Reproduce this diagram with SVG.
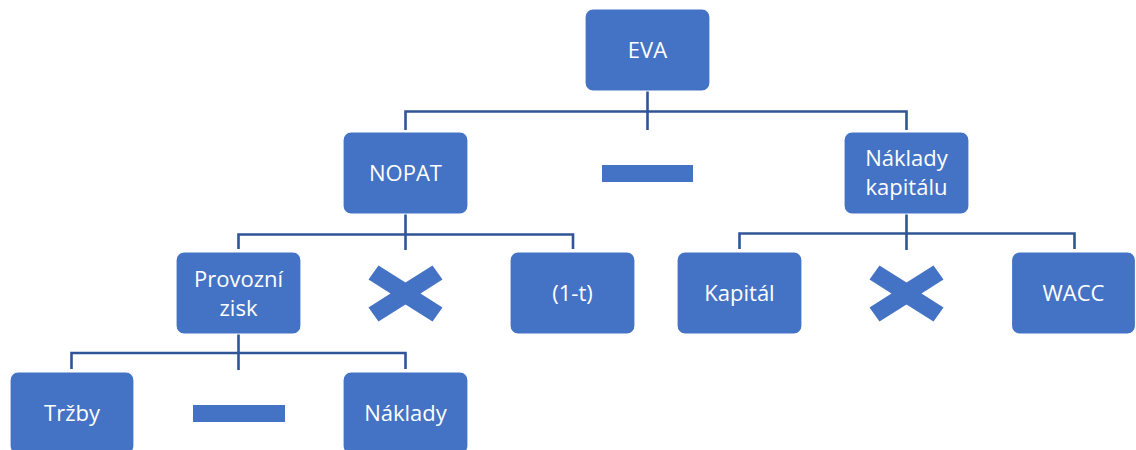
<svg xmlns="http://www.w3.org/2000/svg" width="1136" height="450" viewBox="0 0 1136 450">
<style>
.box{fill:#4472C4;stroke:#ffffff;stroke-width:1.2}
.op{fill:#4472C4}
.lbl{font-family:"Open Sans","Liberation Sans",sans-serif;font-size:22px;fill:#ffffff;text-anchor:middle}
.con{fill:none;stroke:#2F5597;stroke-width:2.6}
</style>
<defs>
<path id="times" d="M-27,-28 L0,-11 L27,-28 L37,-14 L15,0 L37,14 L27,28 L0,11 L-27,28 L-37,14 L-15,0 L-37,-14 Z"/>
</defs>
<rect width="1136" height="450" fill="#ffffff"/>
<g id="connectors">
<path class="con" d="M647.5,91 V130 M405.5,130 V111.5 H906.5 V130"/>
<path class="con" d="M405.5,214 V250 M238.5,249 V234.5 H573 V249"/>
<path class="con" d="M906.5,214 V250 M739.5,249 V233.5 H1074.5 V249"/>
<path class="con" d="M238.5,334 V370 M71.5,369 V353 H405.5 V369"/>
</g>
<g id="eva"><rect class="box" x="585" y="9" width="125" height="82" rx="8"/><text class="lbl" x="647.5" y="58">EVA</text></g>
<g id="nopat"><rect class="box" x="343" y="132" width="125" height="82" rx="8"/><text class="lbl" x="405.5" y="181">NOPAT</text></g>
<g id="minus-top"><rect class="op" x="602" y="165" width="91" height="17"/></g>
<g id="naklady-kapitalu"><rect class="box" x="844" y="132" width="125" height="82" rx="8"/><text class="lbl" x="906.5" y="166">Náklady</text><text class="lbl" x="906.5" y="195">kapitálu</text></g>
<g id="provozni-zisk"><rect class="box" x="176" y="252" width="125" height="82" rx="8"/><text class="lbl" x="238.5" y="287">Provozní</text><text class="lbl" x="238.5" y="316">zisk</text></g>
<g id="times-left"><use href="#times" class="op" x="405.5" y="293.5"/></g>
<g id="one-minus-t"><rect class="box" x="510" y="252" width="125" height="82" rx="8"/><text class="lbl" x="572.5" y="301">(1-t)</text></g>
<g id="kapital"><rect class="box" x="677" y="252" width="125" height="82" rx="8"/><text class="lbl" x="739.5" y="301">Kapitál</text></g>
<g id="times-right"><use href="#times" class="op" x="906.5" y="293.5"/></g>
<g id="wacc"><rect class="box" x="1011.5" y="252" width="124" height="82" rx="8"/><text class="lbl" x="1073.5" y="301">WACC</text></g>
<g id="trzby"><rect class="box" x="10" y="372" width="124" height="82" rx="8"/><text class="lbl" x="72" y="421">Tržby</text></g>
<g id="minus-bottom"><rect class="op" x="193" y="405" width="92" height="17"/></g>
<g id="naklady"><rect class="box" x="343" y="372" width="125" height="82" rx="8"/><text class="lbl" x="405.5" y="421">Náklady</text></g>
</svg>
